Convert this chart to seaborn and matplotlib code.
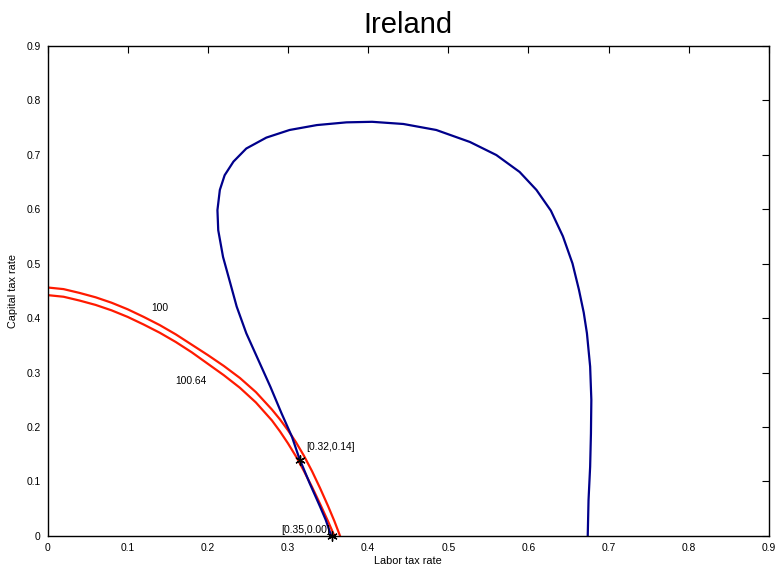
import matplotlib
matplotlib.use("Agg")
import matplotlib.pyplot as plt
import seaborn as sns
import pandas as pd

# ---- data ----
blue_x = [0.354, 0.347, 0.340, 0.327, 0.314, 0.305, 0.292, 0.278, 0.263, 0.248,
          0.236, 0.228, 0.219, 0.213, 0.212, 0.215, 0.221, 0.232, 0.248, 0.273,
          0.302, 0.336, 0.373, 0.405, 0.444, 0.485, 0.527, 0.560, 0.589, 0.610,
          0.628, 0.643, 0.655, 0.663, 0.669, 0.673, 0.677, 0.6785, 0.678, 0.677,
          0.675, 0.674]
blue_y = [0.000, 0.030, 0.054, 0.097, 0.143, 0.182, 0.225, 0.274, 0.323, 0.372,
          0.421, 0.464, 0.512, 0.561, 0.598, 0.635, 0.662, 0.687, 0.711, 0.731,
          0.745, 0.754, 0.759, 0.760, 0.756, 0.745, 0.723, 0.699, 0.668, 0.635,
          0.597, 0.550, 0.500, 0.452, 0.410, 0.372, 0.311, 0.250, 0.188, 0.127,
          0.066, 0.000]

red100_x = [0.0, 0.02, 0.04, 0.06, 0.08, 0.10, 0.12, 0.14, 0.16, 0.18, 0.20, 0.22,
            0.24, 0.26, 0.28, 0.29, 0.30, 0.31, 0.32, 0.33, 0.34, 0.35, 0.358, 0.365]
red100_y = [0.456, 0.453, 0.446, 0.438, 0.428, 0.416, 0.402, 0.387, 0.370, 0.351, 0.332, 0.312,
            0.290, 0.264, 0.232, 0.214, 0.194, 0.172, 0.147, 0.119, 0.088, 0.055, 0.027, 0.0]

red10064_x = [0.0, 0.02, 0.04, 0.06, 0.08, 0.10, 0.12, 0.14, 0.16, 0.18, 0.20, 0.22,
              0.24, 0.26, 0.28, 0.29, 0.30, 0.31, 0.32, 0.33, 0.34, 0.35, 0.358]
red10064_y = [0.442, 0.439, 0.432, 0.424, 0.414, 0.402, 0.388, 0.373, 0.356, 0.337, 0.316, 0.295,
              0.272, 0.245, 0.212, 0.192, 0.170, 0.146, 0.119, 0.090, 0.059, 0.027, 0.0]

point_x = [0.315, 0.355]
point_y = [0.140, 0.0]
point_labels = ["[0.32,0.14]", "[0.35,0.00]"]

contour_labels = ["100", "100.64"]
contour_label_x = [0.140, 0.179]
contour_label_y = [0.418, 0.284]

ticks = [0, 0.1, 0.2, 0.3, 0.4, 0.5, 0.6, 0.7, 0.8, 0.9]
tick_labels = ["0", "0.1", "0.2", "0.3", "0.4", "0.5", "0.6", "0.7", "0.8", "0.9"]

# ---- style ----
sns.set_style("white")
plt.rcParams["font.family"] = ["Liberation Sans", "DejaVu Sans"]
plt.rcParams["text.color"] = "black"
plt.rcParams["lines.solid_joinstyle"] = "round"

fig = plt.figure(figsize=(7.79, 5.71), dpi=100)
ax = fig.add_axes([0.061, 0.0613, 0.926, 0.859])

df_blue = pd.DataFrame({"x": blue_x, "y": blue_y})
df_r1 = pd.DataFrame({"x": red100_x, "y": red100_y})
df_r2 = pd.DataFrame({"x": red10064_x, "y": red10064_y})

red = "#ff1a00"
sns.lineplot(data=df_r1, x="x", y="y", sort=False, estimator=None, color=red, linewidth=1.6, ax=ax)
sns.lineplot(data=df_r2, x="x", y="y", sort=False, estimator=None, color=red, linewidth=1.6, ax=ax)
sns.lineplot(data=df_blue, x="x", y="y", sort=False, estimator=None, color="#00008b", linewidth=1.6, ax=ax)

sns.scatterplot(x=point_x, y=point_y, marker=(6, 2, 0), s=45, color="black",
                linewidth=1.0, ax=ax, zorder=5, clip_on=False)

ax.text(point_x[0] + 0.008, point_y[0] + 0.014, point_labels[0], fontsize=7.4, va="bottom", ha="left", color="black")
ax.text(point_x[1] - 0.003, point_y[1] + 0.002, point_labels[1], fontsize=7.4, va="bottom", ha="right", color="black")
for lab, lx, ly in zip(contour_labels, contour_label_x, contour_label_y):
    ax.text(lx, ly, lab, fontsize=7.4, ha="center", va="center", color="black")

ax.set_xlim(0, 0.9)
ax.set_ylim(0, 0.9)
ax.set_xticks(ticks)
ax.set_xticklabels(tick_labels)
ax.set_yticks(ticks)
ax.set_yticklabels(tick_labels)
ax.tick_params(direction="in", length=5, width=0.8, top=True, right=True,
               labelsize=7.4, pad=5, colors="black")
for sp in ax.spines.values():
    sp.set_visible(True)
    sp.set_color("black")
    sp.set_linewidth(1.0)

ax.set_xlabel("Labor tax rate", fontsize=7.8, labelpad=2, color="black")
ax.set_ylabel("Capital tax rate", fontsize=7.8, labelpad=6, color="black")
ax.set_title("Ireland", fontsize=21, pad=9, color="black")

fig.savefig("out.png", dpi=100)
